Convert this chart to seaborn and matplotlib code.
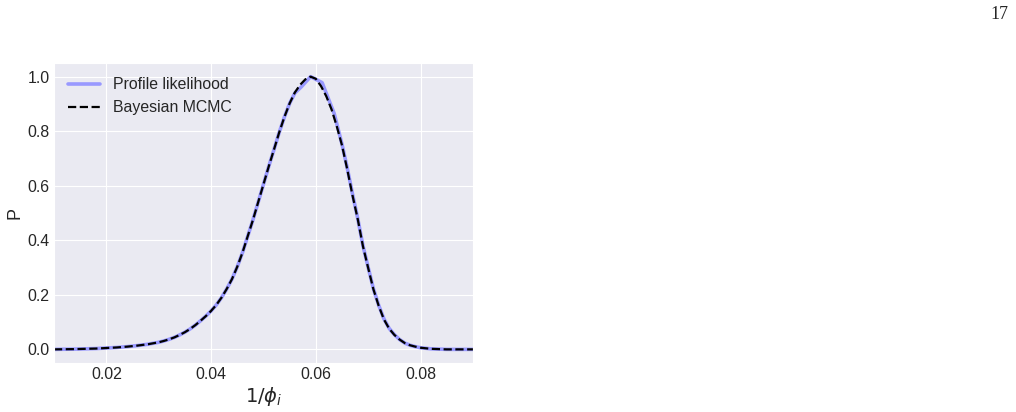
import numpy as np
import pandas as pd
import matplotlib
matplotlib.use("Agg")
import matplotlib.pyplot as plt
import seaborn as sns

# ============================
# Dados
# ============================
x_mcmc = [0.010, 0.014, 0.018, 0.020, 0.022, 0.024, 0.026, 0.028, 0.030,
          0.031, 0.032, 0.033, 0.034, 0.035, 0.036, 0.037, 0.038, 0.039,
          0.040, 0.041, 0.042, 0.043, 0.044, 0.045, 0.046, 0.047, 0.048,
          0.049, 0.050, 0.051, 0.052, 0.053, 0.054, 0.055, 0.056, 0.057,
          0.058, 0.059, 0.060, 0.061, 0.062, 0.063, 0.064, 0.065, 0.066,
          0.067, 0.068, 0.069, 0.070, 0.071, 0.072, 0.073, 0.074, 0.075,
          0.076, 0.077, 0.078, 0.079, 0.080, 0.082, 0.085, 0.090]
p_mcmc = [0.000, 0.001, 0.003, 0.005, 0.007, 0.010, 0.014, 0.019, 0.026,
          0.031, 0.037, 0.044, 0.053, 0.063, 0.075, 0.089, 0.105, 0.122,
          0.141, 0.163, 0.190, 0.222, 0.258, 0.303, 0.355, 0.415, 0.475,
          0.540, 0.605, 0.670, 0.732, 0.795, 0.852, 0.902, 0.942, 0.970,
          0.990, 1.000, 0.992, 0.965, 0.928, 0.880, 0.818, 0.748, 0.660,
          0.565, 0.478, 0.378, 0.298, 0.220, 0.160, 0.110, 0.076, 0.053,
          0.036, 0.023, 0.015, 0.010, 0.006, 0.002, 0.000, 0.000]

x_profile = [0.010, 0.014, 0.018, 0.020, 0.022, 0.024, 0.026, 0.028, 0.030,
             0.031, 0.032, 0.033, 0.034, 0.035, 0.036, 0.037, 0.038, 0.039,
             0.040, 0.041, 0.042, 0.043, 0.044, 0.045, 0.046, 0.047, 0.048,
             0.049, 0.050, 0.051, 0.052, 0.053, 0.054, 0.055, 0.056, 0.0572,
             0.059, 0.0612, 0.0635, 0.065, 0.066, 0.067, 0.068, 0.069, 0.070,
             0.071, 0.072, 0.073, 0.074, 0.075, 0.076, 0.077, 0.078, 0.079,
             0.080, 0.082, 0.085, 0.090]
p_profile = [0.000, 0.001, 0.003, 0.005, 0.007, 0.010, 0.014, 0.019, 0.026,
             0.031, 0.037, 0.044, 0.053, 0.063, 0.075, 0.089, 0.105, 0.122,
             0.141, 0.163, 0.190, 0.222, 0.258, 0.303, 0.355, 0.415, 0.475,
             0.540, 0.605, 0.670, 0.732, 0.795, 0.852, 0.902, 0.940, 0.962,
             1.000, 0.978, 0.865, 0.752, 0.665, 0.570, 0.480, 0.380, 0.300,
             0.222, 0.162, 0.112, 0.077, 0.054, 0.036, 0.023, 0.015, 0.010,
             0.006, 0.002, 0.000, 0.000]

df_profile = pd.DataFrame({"x": x_profile, "P": p_profile})
df_mcmc = pd.DataFrame({"x": x_mcmc, "P": p_mcmc})

# ============================
# Grafico
# ============================
sns.set_style("darkgrid")
plt.rcParams["font.family"] = ["Liberation Sans", "DejaVu Sans"]

fig = plt.figure(figsize=(10.16, 4.12), dpi=100)
ax = fig.add_axes([0.0531, 0.1189, 0.4124, 0.7282])

sns.lineplot(data=df_profile, x="x", y="P", ax=ax, color="#9999ff",
             linewidth=2.6, label="Profile likelihood")
sns.lineplot(data=df_mcmc, x="x", y="P", ax=ax, color="black",
             linewidth=1.6, linestyle="--", label="Bayesian MCMC")

ax.set_xlim(0.01, 0.09)
ax.set_ylim(-0.05, 1.05)
ax.set_xticks([0.02, 0.04, 0.06, 0.08])
ax.set_yticks([0.0, 0.2, 0.4, 0.6, 0.8, 1.0])
ax.tick_params(labelsize=11.4, colors="#262626", length=0, pad=3)
ax.set_xlabel(r"$1/\phi_i$", fontsize=14, color="#262626", labelpad=2)
ax.set_ylabel("P", fontsize=13, color="#262626", labelpad=3)
ax.legend(loc="upper left", frameon=False, fontsize=11.4)

# numero da pagina
fig.text(0.984, 0.965, "17", family="Liberation Serif", fontsize=13,
         ha="center", va="center")

fig.savefig("out.png", dpi=100)
